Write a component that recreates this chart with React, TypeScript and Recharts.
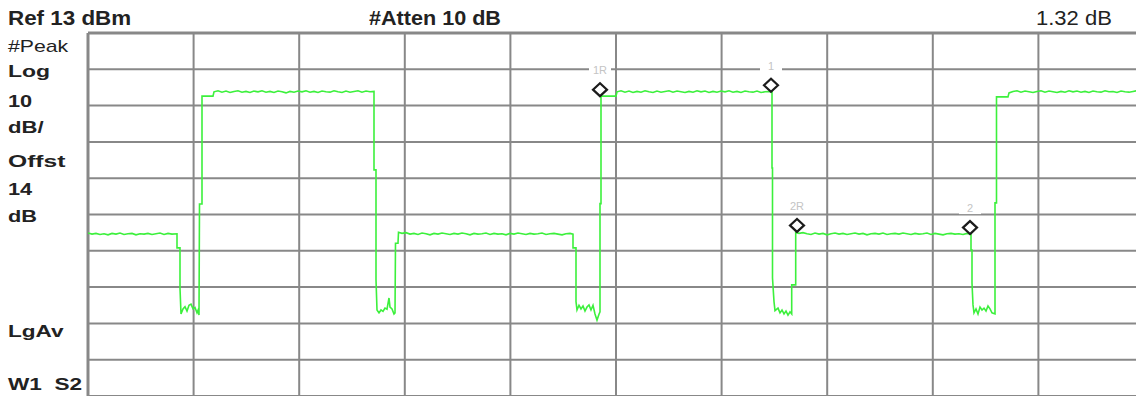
import React from "react";
import { ComposedChart, Line, Scatter, XAxis, YAxis, ReferenceLine } from "recharts";

// sweep position (0..1056, ten divisions) vs level in dBm
const low1 = [[0,-42.1],[4,-42.4],[8,-42.2],[12,-42.5],[16,-42.3],[20,-42.6],[24,-42.2],[28,-42.4],[32,-42.1],[36,-42.5],[40,-42.3],[44,-42.2],[48,-42.6],[52,-42.3],[56,-42.4],[60,-42.2],[64,-42.5],[68,-42.3],[72,-42.1],[76,-42.5],[80,-42.2],[84,-42.4],[89,-42.3]];
const edge1 = [[89,-46.2],[92,-46.2],[92,-57.3],[93,-64.4],[95,-63.0],[97,-62.4],[99,-63.6],[101,-62.0],[103,-61.7],[105,-63.0],[107,-62.6],[109,-64.1],[110,-63.4],[111,-64.7],[111.5,-34.1],[114,-34.1],[114,-4.4],[125,-4.4]];
const high1 = [[126,-3.2],[130,-2.9],[134,-3.3],[138,-3.0],[142,-3.4],[146,-3.1],[150,-2.9],[154,-3.3],[158,-3.1],[162,-3.4],[166,-3.0],[170,-3.2],[174,-2.9],[178,-3.3],[182,-3.1],[186,-3.4],[190,-3.0],[194,-3.2],[198,-3.5],[202,-3.1],[206,-3.3],[210,-3.0],[214,-3.2],[218,-2.9],[222,-3.3],[226,-3.1],[230,-3.4],[234,-3.0],[238,-3.2],[242,-3.3],[246,-2.9],[250,-3.2],[254,-3.4],[258,-3.0],[262,-3.3],[266,-3.1],[270,-2.9],[274,-3.3],[278,-3.0],[282,-3.2],[286,-3.1]];
const edge2 = [[286,-24.7],[288,-24.7],[288,-55.0],[289,-63.3],[291,-64.1],[293,-63.3],[295,-63.7],[297,-62.8],[299,-63.1],[301,-60.0],[302,-62.5],[304,-63.0],[306,-64.4],[307,-64.1],[307.5,-44.9],[310,-44.9],[310.5,-41.9]];
const low2 = [[314,-42.2],[318,-42.0],[322,-42.4],[326,-42.2],[330,-42.5],[334,-42.1],[338,-42.3],[342,-42.6],[346,-42.2],[350,-42.4],[354,-42.1],[358,-42.3],[362,-42.5],[366,-42.2],[370,-42.4],[374,-42.1],[378,-42.3],[382,-42.6],[386,-42.2],[390,-42.4],[394,-42.3],[398,-42.1],[402,-42.5],[406,-42.2],[410,-42.4],[414,-42.3],[418,-42.6],[422,-42.2],[426,-42.4],[430,-42.1],[434,-42.3],[438,-42.5],[442,-42.2],[446,-42.4],[450,-42.3],[454,-42.1],[458,-42.5],[462,-42.3],[466,-42.2],[470,-42.4],[474,-42.6],[478,-42.3],[482,-42.2],[485,-42.4]];
const edge3 = [[485,-46.2],[488,-46.2],[488,-61.0],[489,-63.3],[491,-62.0],[493,-63.0],[495,-62.2],[497,-63.6],[499,-62.5],[501,-61.9],[503,-63.3],[505,-62.0],[507,-64.4],[509,-66.1],[511,-64.5],[512,-63.8],[512,-34.0],[513,-34.0],[513,-4.4],[528,-4.4]];
const high2 = [[529,-3.2],[533,-2.9],[537,-3.3],[541,-3.0],[545,-3.4],[549,-3.1],[553,-3.3],[557,-2.9],[561,-3.2],[565,-3.4],[569,-3.0],[573,-3.3],[577,-3.1],[581,-2.9],[585,-3.3],[589,-3.0],[593,-3.2],[597,-3.4],[601,-3.1],[605,-3.3],[609,-2.9],[613,-3.2],[617,-3.0],[621,-3.4],[625,-3.1],[629,-3.3],[633,-3.0],[637,-3.2],[641,-2.9],[645,-3.3],[649,-3.1],[653,-3.4],[657,-3.0],[661,-3.2],[665,-3.3],[669,-3.0],[673,-3.4],[677,-3.2],[681,-3.1],[684,-3.2]];
const edge4 = [[684,-24.2],[684.5,-24.2],[684.5,-54.5],[686,-61.0],[687,-63.5],[690,-62.8],[692,-64.1],[694,-63.3],[696,-64.4],[698,-63.6],[700,-64.7],[702,-63.8],[703.7,-64.4],[703.7,-56.4],[707.7,-56.4],[707.7,-41.9]];
const low3 = [[711,-42.2],[715,-42.0],[719,-42.3],[723,-42.5],[727,-42.1],[731,-42.4],[735,-42.2],[739,-42.6],[743,-42.3],[747,-42.1],[751,-42.4],[755,-42.2],[759,-42.5],[763,-42.3],[767,-42.1],[771,-42.4],[775,-42.2],[779,-42.6],[783,-42.3],[787,-42.2],[791,-42.4],[795,-42.1],[799,-42.5],[803,-42.3],[807,-42.2],[811,-42.4],[815,-42.1],[819,-42.3],[823,-42.5],[827,-42.2],[831,-42.4],[835,-42.3],[839,-42.1],[843,-42.5],[847,-42.2],[851,-42.4],[855,-42.6],[859,-42.3],[863,-42.2],[867,-42.4],[871,-42.3],[875,-42.5],[879,-42.2],[883,-42.4]];
const edge5 = [[883,-46.8],[884,-46.8],[884,-55.9],[885,-61.9],[886,-64.1],[888,-63.0],[890,-64.4],[892,-62.5],[894,-63.3],[896,-62.8],[898,-63.6],[900,-62.2],[902,-63.0],[904,-64.1],[907,-64.4],[907,-33.8],[908.5,-33.8],[908.5,-4.6],[920,-4.6]];
const high3 = [[921,-3.5],[925,-3.1],[929,-2.9],[933,-3.3],[937,-3.0],[941,-3.2],[945,-3.4],[949,-3.1],[953,-2.9],[957,-3.3],[961,-3.0],[965,-3.2],[969,-3.4],[973,-3.1],[977,-3.3],[981,-2.9],[985,-3.2],[989,-3.0],[993,-3.3],[997,-3.1],[1001,-3.4],[1005,-3.0],[1009,-3.2],[1013,-3.3],[1017,-2.9],[1021,-3.2],[1025,-3.1],[1029,-3.4],[1033,-3.0],[1037,-3.2],[1041,-3.3],[1045,-3.1],[1049,-2.9],[1053,-3.2],[1056,-3.1]];

const markerNames = ["1R", "1", "2R", "2"];
const markerX = [512, 683, 709, 882];
const markerY = [-4.4, -3.2, -41.8, -42.4];

const gridX = [0, 105.6, 211.2, 316.8, 422.4, 528, 633.6, 739.2, 844.8, 950.4, 1056];
const gridY = [13, 3, -7, -17, -27, -37, -47, -57, -67, -77, -87];

const trace = [low1, edge1, high1, edge2, low2, edge3, high2, edge4, low3, edge5, high3]
  .flat()
  .map(([x, y]) => ({ x, y }));

const markers = markerNames.map((name, i) => ({ x: markerX[i], y: markerY[i], name }));

const FONT = "'Liberation Sans', Arial, sans-serif";

// annotation text around the screen (analyzer softkey info)
const labels = [
  { t: "Ref 13 dBm", x: 8, y: 25, b: true, s: 20, k: 1.12 },
  { t: "#Atten 10 dB", x: 369, y: 25, b: true, s: 20, k: 1.08 },
  { t: "1.32 dB", x: 1036, y: 25, b: false, s: 20, k: 1.1 },
  { t: "#Peak", x: 8, y: 52, b: false, s: 17, k: 1.25 },
  { t: "Log", x: 8, y: 77, b: true, s: 17, k: 1.35 },
  { t: "10", x: 8, y: 107, b: true, s: 17, k: 1.28 },
  { t: "dB/", x: 8, y: 133, b: true, s: 17, k: 1.3 },
  { t: "Offst", x: 8, y: 167, b: true, s: 17, k: 1.45 },
  { t: "14", x: 8, y: 195, b: true, s: 17, k: 1.28 },
  { t: "dB", x: 8, y: 222, b: true, s: 17, k: 1.28 },
  { t: "LgAv", x: 8, y: 337, b: true, s: 17, k: 1.33 },
  { t: "W1  S2", x: 8, y: 390, b: true, s: 17, k: 1.33 },
];

const MarkerShape = (props: any) => {
  const { cx, cy, payload } = props;
  if (cx == null || cy == null) return null;
  const pts = `${cx},${cy} ${cx + 7},${cy - 6.5} ${cx},${cy - 13} ${cx - 7},${cy - 6.5}`;
  return (
    <g>
      <rect x={cx - 11} y={cy - 32} width={22} height={12} fill="#fff" />
      <text x={cx} y={cy - 22} textAnchor="middle" fontSize={11} fontFamily={FONT} fill="#c4c4c4">
        {payload.name}
      </text>
      <polygon points={pts} fill="#fff" stroke="#1c1c1c" strokeWidth={2.2} />
    </g>
  );
};

export default function App() {
  return (
    <div style={{ position: "absolute", left: 0, top: 0, width: 1136, height: 396, overflow: "hidden", background: "#fff" }}>
      <ComposedChart width={1150} height={400} margin={{ top: 33, right: 6, bottom: 4, left: 88 }}>
        <XAxis type="number" dataKey="x" domain={[0, 1056]} allowDataOverflow hide />
        <YAxis type="number" dataKey="y" domain={[-87, 13]} allowDataOverflow hide width={0} />
        {gridX.map((v) => (
          <ReferenceLine key={`gx${v}`} x={v} stroke="#888" strokeWidth={v === 0 ? 3 : 2} ifOverflow="visible" />
        ))}
        {gridY.map((v) => (
          <ReferenceLine key={`gy${v}`} y={v} stroke="#888" strokeWidth={v === 13 ? 3 : 2} ifOverflow="visible" />
        ))}
        <Line
          data={trace}
          dataKey="y"
          type="linear"
          stroke="#3cf03c"
          strokeWidth={1.6}
          dot={false}
          isAnimationActive={false}
        />
        <Scatter data={markers} dataKey="y" shape={<MarkerShape />} isAnimationActive={false} />
      </ComposedChart>
      <svg width={1136} height={396} style={{ position: "absolute", left: 0, top: 0, pointerEvents: "none" }}>
        {labels.map((l) => (
          <text
            key={l.t}
            transform={`translate(${l.x},${l.y}) scale(${l.k},1)`}
            fontFamily={FONT}
            fontWeight={l.b ? 700 : 400}
            fontSize={l.s}
            fill="#222"
            style={{ whiteSpace: "pre" }}
          >
            {l.t}
          </text>
        ))}
      </svg>
    </div>
  );
}
